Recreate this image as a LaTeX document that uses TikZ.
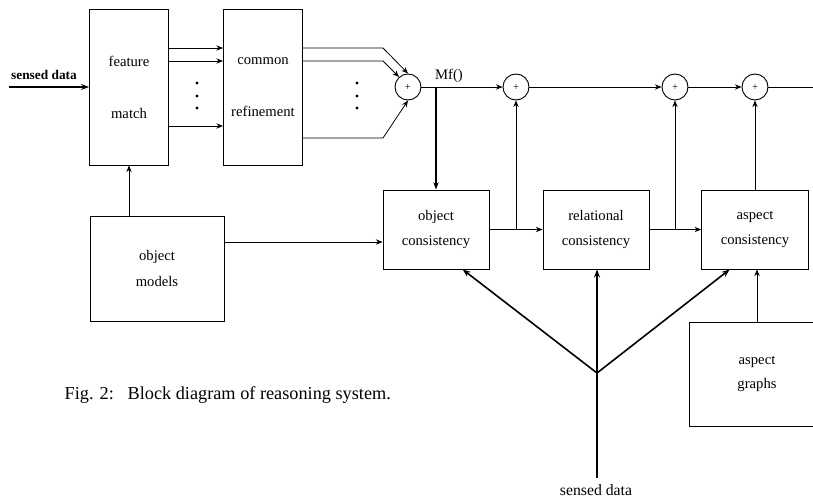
\documentclass[tikz,border=0pt]{standalone}
\usepackage{fontspec}
\setmainfont{Liberation Serif}
\usetikzlibrary{arrows.meta}

\tikzset{
  blk/.style={draw, line width=0.7pt, inner sep=0pt, align=center, font=\fontsize{11}{13}\selectfont},
  sumnode/.style={draw, circle, line width=0.7pt, minimum size=19.5pt, inner sep=0pt, font=\fontsize{8}{9}\selectfont},
  conarr/.style={line width=0.6pt, -{Stealth[length=5pt,width=4pt]}},
  boldarr/.style={line width=1.2pt, -{Stealth[length=6pt,width=4.5pt]}},
}

\begin{document}
\begin{tikzpicture}[x=0.75pt,y=0.75pt,yscale=-1,xscale=1]
\useasboundingbox (0,0) rectangle (813,498);
\clip (0,0) rectangle (813,498);

% Blocks
\node[blk, minimum width=59.25pt, minimum height=117pt] (feat) at (129,87) {feature\\[26pt]match};
\node[blk, minimum width=59.25pt, minimum height=117pt] (comm) at (263,87) {common\\[26pt]refinement};
\node[blk, minimum width=79.5pt, minimum height=59.25pt] (objc) at (436,229.5) {object\\[6pt]consistency};
\node[blk, minimum width=79.5pt, minimum height=59.25pt] (relc) at (596,229.5) {relational\\[6pt]consistency};
\node[blk, minimum width=80pt, minimum height=59.25pt] (aspc) at (755,229.5) {aspect\\[6pt]consistency};
\node[blk, minimum width=100.5pt, minimum height=78.75pt] (objm) at (157,268.5) {object\\[6pt]models};
\node[blk, minimum width=102pt, minimum height=78pt] (aspg) at (757,374) {aspect\\[5.5pt]graphs};

% Summing junctions
\node[sumnode] (sum1) at (408,87) {+};
\node[sumnode] (sum2) at (516,87) {+};
\node[sumnode] (sum3) at (675,87) {+};
\node[sumnode] (sum4) at (755,87) {+};

\coordinate (inL) at (9,87);
\coordinate (outR) at (813,87);
\coordinate (sdb) at (597,478);
\coordinate (fork) at (597,373);

% Text Node
\node[font=\bfseries\fontsize{10}{12}\selectfont] (sdin) at (44,75) {sensed data};
% Text Node
\node[font=\fontsize{11}{13}\selectfont] (mflbl) at (449,76) {Mf()};
% Text Node
\node[font=\fontsize{11.8}{14}\selectfont] (sdlbl) at (596,490) {sensed data};
% Text Node
\node[anchor=west, font=\fontsize{13.7}{16}\selectfont] (cap) at (60,395) {Fig. 2:\hspace{0.75em}Block diagram of reasoning system.};

% dots
\foreach \y in {83,96,108} {
  \fill (197,\y) circle (1.2pt);
  \fill (357,\y) circle (1.2pt);
}

%Straight Lines
\draw[boldarr] (inL) -- (feat);
\foreach \y in {48,61,126}
  \draw[conarr] (feat.east |- 0,\y) -- (comm.west |- 0,\y);
\draw[conarr] (comm.east |- 0,48) -- (383,48) -- (sum1.north);
\draw[conarr] (comm.east |- 0,61) -- (383,61) -- (sum1.132);
\draw[conarr] (comm.east |- 0,138) -- (383,138) -- (sum1.south);

%Straight Lines
\draw[conarr] (sum1) -- (sum2);
\draw[conarr] (sum2) -- (sum3);
\draw[conarr] (sum3) -- (sum4);
\draw[line width=0.6pt] (sum4) -- (outR);
\draw[line width=0.9pt, -{Stealth[length=5.5pt,width=4pt]}] (objc.north |- sum1.east) -- (objc.north);

%Straight Lines
\draw[conarr] (objc.east) -- (relc.west);
\draw[conarr] (sum2.south |- objc.east) -- (sum2.south);
\draw[conarr] (relc.east) -- (aspc.west);
\draw[conarr] (sum3.south |- relc.east) -- (sum3.south);
\draw[conarr] (aspc.north) -- (sum4.south);

%Straight Lines
\draw[conarr] (feat.south |- objm.north) -- (feat.south);
\draw[conarr] (objm.east |- 0,242) -- (objc.west |- 0,242);
\draw[conarr] (aspg.north) -- (aspg.north |- aspc.south);

%Straight Lines
\draw[line width=1.1pt] (sdb) -- (fork);
\draw[boldarr] (fork) -- (fork |- relc.south);
\draw[boldarr] (fork) -- ([xshift=20pt]objc.south);
\draw[boldarr] (fork) -- ([xshift=-19pt]aspc.south);

\end{tikzpicture}
\end{document}
